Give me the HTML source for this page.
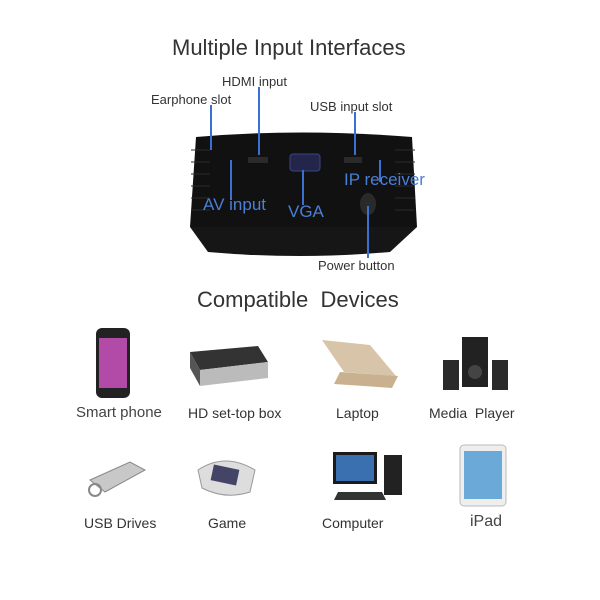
<!DOCTYPE html>
<html><head><meta charset="utf-8"><style>
body{margin:0;background:#fff;width:600px;height:600px;position:relative;overflow:hidden;font-family:"Liberation Sans",sans-serif;color:#222}
.t{position:absolute;white-space:nowrap}
.lab{font-size:15px;color:#444}
.sm{font-size:13px;color:#333}
.blue{color:#4a7fd6;font-size:17px}
</style></head><body>
<div class="t" style="left:172px;top:35px;font-size:22px;color:#333">Multiple Input Interfaces</div>
<div class="t sm" style="left:222px;top:74px">HDMI input</div>
<div class="t sm" style="left:151px;top:92px">Earphone slot</div>
<div class="t sm" style="left:310px;top:99px">USB input slot</div>
<div class="t sm" style="left:318px;top:258px">Power button</div>
<svg style="position:absolute;left:0;top:0" width="600" height="600">
  <path d="M196 137 Q300 128 412 137 L417 227 L190 227 Z" fill="#111"/>
  <path d="M190 227 L417 227 L390 252 Q300 260 208 252 Z" fill="#161616"/>
  <g stroke="#2c2c2c" stroke-width="1">
    <line x1="191" y1="150" x2="210" y2="150"/><line x1="191" y1="162" x2="210" y2="162"/><line x1="191" y1="174" x2="210" y2="174"/><line x1="191" y1="186" x2="210" y2="186"/><line x1="191" y1="198" x2="210" y2="198"/><line x1="191" y1="210" x2="210" y2="210"/>
    <line x1="395" y1="150" x2="415" y2="150"/><line x1="395" y1="162" x2="415" y2="162"/><line x1="395" y1="174" x2="415" y2="174"/><line x1="395" y1="186" x2="415" y2="186"/><line x1="395" y1="198" x2="415" y2="198"/><line x1="395" y1="210" x2="415" y2="210"/>
  </g>
  <rect x="290" y="154" width="30" height="17" rx="3" fill="#23264a" stroke="#3a4680"/>
  <rect x="248" y="157" width="20" height="6" fill="#2a2a2a"/>
  <rect x="344" y="157" width="18" height="6" fill="#2a2a2a"/>
  <ellipse cx="368" cy="204" rx="8" ry="11" fill="#2a2a2a"/>
  <g stroke="#3b6fd0" stroke-width="2" fill="none">
    <line x1="211" y1="105" x2="211" y2="150"/>
    <line x1="259" y1="87" x2="259" y2="155"/>
    <line x1="355" y1="112" x2="355" y2="155"/>
    <line x1="231" y1="160" x2="231" y2="200"/>
    <line x1="303" y1="170" x2="303" y2="205"/>
    <line x1="380" y1="160" x2="380" y2="182"/>
    <line x1="368" y1="206" x2="368" y2="258"/>
  </g>
  <!-- phone -->
  <rect x="96" y="328" width="34" height="70" rx="6" fill="#222"/>
  <rect x="99" y="338" width="28" height="50" fill="#b24aa8"/>
  <!-- set-top box -->
  <path d="M190 352 L258 346 L268 362 L200 370 Z" fill="#333"/>
  <path d="M190 352 L200 370 L200 386 L190 368 Z" fill="#555"/>
  <path d="M200 370 L268 362 L268 378 L200 386 Z" fill="#bbb"/>
  <!-- laptop -->
  <path d="M322 340 L370 345 L396 376 L344 372 Z" fill="#d8c4a8"/>
  <path d="M340 372 L398 376 L392 388 L334 384 Z" fill="#c9b190"/>
  <!-- speakers -->
  <rect x="462" y="337" width="26" height="50" fill="#222"/>
  <rect x="443" y="360" width="16" height="30" fill="#2a2a2a"/>
  <rect x="492" y="360" width="16" height="30" fill="#2a2a2a"/>
  <circle cx="475" cy="372" r="7" fill="#444"/>
  <!-- usb -->
  <path d="M90 480 L130 462 L145 470 L105 492 Z" fill="#c8c8c8" stroke="#888"/>
  <circle cx="95" cy="490" r="6" fill="none" stroke="#888" stroke-width="2"/>
  <!-- psp -->
  <path d="M198 470 Q225 452 255 470 L250 492 Q225 500 202 488 Z" fill="#ddd" stroke="#999"/>
  <rect x="212" y="467" width="26" height="16" fill="#446" transform="rotate(12 225 475)"/>
  <!-- computer -->
  <rect x="333" y="452" width="44" height="32" fill="#1a1a1a"/>
  <rect x="336" y="455" width="38" height="26" fill="#3a6fb0"/>
  <rect x="384" y="455" width="18" height="40" fill="#222"/>
  <path d="M338 492 L382 492 L386 500 L334 500 Z" fill="#333"/>
  <!-- ipad -->
  <rect x="460" y="445" width="46" height="61" rx="4" fill="#eee" stroke="#bbb"/>
  <rect x="464" y="451" width="38" height="48" fill="#6aa9d8"/>
</svg>
<div class="t blue" style="left:203px;top:195px">AV input</div>
<div class="t blue" style="left:288px;top:202px">VGA</div>
<div class="t blue" style="left:344px;top:170px">IP receiver</div>
<div class="t" style="left:197px;top:287px;font-size:22px;color:#333">Compatible&nbsp; Devices</div>
<div class="t lab" style="left:76px;top:404px">Smart phone</div>
<div class="t sm" style="left:188px;top:405px;font-size:14px">HD set-top box</div>
<div class="t sm" style="left:336px;top:405px;font-size:14px">Laptop</div>
<div class="t sm" style="left:429px;top:405px;font-size:14px">Media&nbsp; Player</div>
<div class="t sm" style="left:84px;top:515px;font-size:14px">USB Drives</div>
<div class="t sm" style="left:208px;top:515px;font-size:14px">Game</div>
<div class="t sm" style="left:322px;top:515px;font-size:14px">Computer</div>
<div class="t lab" style="left:470px;top:513px;font-size:16px">iPad</div>
</body></html>
